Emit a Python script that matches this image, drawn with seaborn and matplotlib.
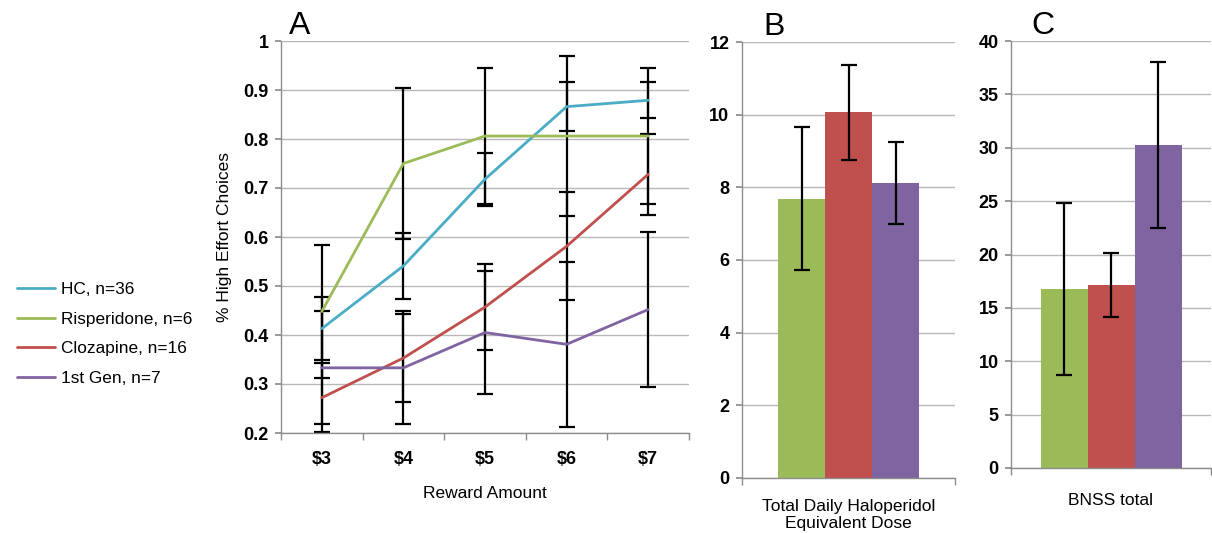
import numpy as np
import pandas as pd
import matplotlib
matplotlib.use("Agg")
import matplotlib.pyplot as plt
import seaborn as sns
from matplotlib.lines import Line2D

sns.set_theme(style="white")
plt.rcParams['font.family'] = ['Liberation Sans', 'DejaVu Sans']
plt.rcParams['text.color'] = 'black'
plt.rcParams['axes.labelcolor'] = 'black'
plt.rcParams['xtick.color'] = 'black'
plt.rcParams['ytick.color'] = 'black'

# ---------------- data ----------------
rewards = ["$3", "$4", "$5", "$6", "$7"]
groups = ["HC, n=36", "Risperidone, n=6", "Clozapine, n=16", "1st Gen, n=7"]
hc = [0.413, 0.541, 0.718, 0.866, 0.879]
hc_err = [0.065, 0.068, 0.054, 0.050, 0.037]
ris = [0.448, 0.750, 0.806, 0.806, 0.806]
ris_err = [0.136, 0.155, 0.138, 0.164, 0.138]
clo = [0.272, 0.353, 0.457, 0.581, 0.728]
clo_err = [0.070, 0.090, 0.087, 0.110, 0.083]
gen1 = [0.333, 0.333, 0.405, 0.381, 0.452]
gen1_err = [0.115, 0.115, 0.125, 0.168, 0.158]

drugs = ["Risperidone", "Clozapine", "1st Gen"]
dose = [7.69, 10.07, 8.12]
dose_err = [1.97, 1.31, 1.12]
bnss = [16.79, 17.16, 30.27]
bnss_err = [8.05, 2.97, 7.80]

line_colors = ["#4BACC6", "#9BBB59", "#C0504D", "#8064A2"]
bar_colors = ["#9BBB59", "#C0504D", "#8064A2"]

W, H = 1212, 533
fig = plt.figure(figsize=(W / 100, H / 100), dpi=100)

def px_axes(x0, y_top, x1, y_bot):
    return fig.add_axes([x0 / W, (H - y_bot) / H, (x1 - x0) / W, (y_bot - y_top) / H])

TICK_FS = 13
LABEL_FS = 12.5
grid_col = "#b8b8b8"
spine_col = "#8c8c8c"

def style_axes(ax):
    ax.set_axisbelow(True)
    ax.yaxis.grid(True, color=grid_col, lw=1.0)
    ax.xaxis.grid(False)
    for s in ["top", "right"]:
        ax.spines[s].set_visible(False)
    for s in ["left", "bottom"]:
        ax.spines[s].set_color(spine_col)
        ax.spines[s].set_linewidth(1.0)
    ax.tick_params(axis="y", which="both", left=True, length=4, color=spine_col,
                   labelsize=TICK_FS, pad=5, labelcolor="black")
    for lab in ax.get_yticklabels():
        lab.set_fontweight("bold")

# ---------------- Panel A ----------------
axA = px_axes(281, 41, 689, 433)
series = [hc, ris, clo, gen1]
errs = [hc_err, ris_err, clo_err, gen1_err]
rows = []
for g, vals in zip(groups, series):
    for i, v in enumerate(vals):
        rows.append(dict(x=i, y=v, group=g))
dfA = pd.DataFrame(rows)
sns.lineplot(data=dfA, x="x", y="y", hue="group", hue_order=groups,
             palette=line_colors, lw=2, ax=axA, legend=False, errorbar=None)
for vals, e in zip(series, errs):
    axA.errorbar(range(len(rewards)), vals, yerr=e, fmt="none", ecolor="black",
                 elinewidth=1.6, capsize=5.5, capthick=1.6, zorder=1)
axA.set_ylim(0.2, 1.0)
axA.set_xlim(-0.5, 4.5)
axA.set_yticks(np.arange(0.2, 1.01, 0.1))
axA.set_yticklabels([f"{v:g}" for v in np.round(np.arange(0.2, 1.01, 0.1), 1)])
axA.set_xticks(range(len(rewards)))
axA.set_xticklabels(rewards, fontsize=TICK_FS, fontweight="bold")
axA.set_xticks(np.arange(-0.5, 4.6, 1), minor=True)
axA.tick_params(axis="x", which="major", length=0, pad=13, labelcolor="black")
axA.tick_params(axis="x", which="minor", bottom=True, length=5, color=spine_col)
axA.set_xlabel("Reward Amount", fontsize=LABEL_FS, labelpad=13)
axA.set_ylabel("% High Effort Choices", fontsize=LABEL_FS, labelpad=8)
style_axes(axA)
axA.text(0.02, 1.0, "A", transform=axA.transAxes, fontsize=23, va="bottom", ha="left")

handles = [Line2D([0], [0], color=c, lw=2) for c in line_colors]
fig.legend(handles, groups, loc="upper left", bbox_to_anchor=(10 / W, (H - 275) / H),
           frameon=False, fontsize=12.4, handlelength=2.2, handletextpad=0.35,
           labelspacing=0.85, borderaxespad=0)

# ---------------- Panels B and C ----------------
def bar_panel(ax, vals, errv, width, ylim, ystep, xlabel, letter):
    dfb = pd.DataFrame(dict(cat=[xlabel] * len(drugs), drug=drugs, val=vals))
    sns.barplot(data=dfb, x="cat", y="val", hue="drug", hue_order=drugs,
                palette=bar_colors, width=width, gap=0, errorbar=None,
                saturation=1, ax=ax, legend=False, linewidth=0)
    xs = []
    for cont in ax.containers:
        for p in cont.patches:
            xs.append(p.get_x() + p.get_width() / 2)
    ax.errorbar(xs, vals, yerr=errv, fmt="none", ecolor="black", elinewidth=1.6,
                capsize=5.5, capthick=1.6, zorder=5)
    ax.set_xlim(-0.5, 0.5)
    ax.set_ylim(*ylim)
    ax.set_yticks(np.arange(ylim[0], ylim[1] + 0.01, ystep))
    ax.set_xticks([-0.5, 0.5], minor=True)
    ax.tick_params(axis="x", which="minor", bottom=True, length=5, color=spine_col)
    ax.tick_params(axis="x", which="major", length=0, labelcolor="black")
    ax.set_xlabel("")
    ax.set_ylabel("")
    style_axes(ax)
    ax.text(0.1, 1.0, letter, transform=ax.transAxes, fontsize=23, va="bottom", ha="left")

axB = px_axes(742, 42, 955, 478)
bar_panel(axB, dose, dose_err, 141 / 213, (0, 12), 2,
          "Total Daily Haloperidol\nEquivalent Dose", "B")
axB.set_xticklabels(["Total Daily Haloperidol\nEquivalent Dose"], fontsize=LABEL_FS,
                    linespacing=1.15)
axB.tick_params(axis="x", which="major", pad=15)

axC = px_axes(1011, 41, 1211, 468)
bar_panel(axC, bnss, bnss_err, 141 / 200, (0, 40), 5, "BNSS total", "C")
axC.set_xticklabels(["BNSS total"], fontsize=LABEL_FS)
axC.tick_params(axis="x", which="major", pad=18)

fig.savefig("out.png", dpi=100)
